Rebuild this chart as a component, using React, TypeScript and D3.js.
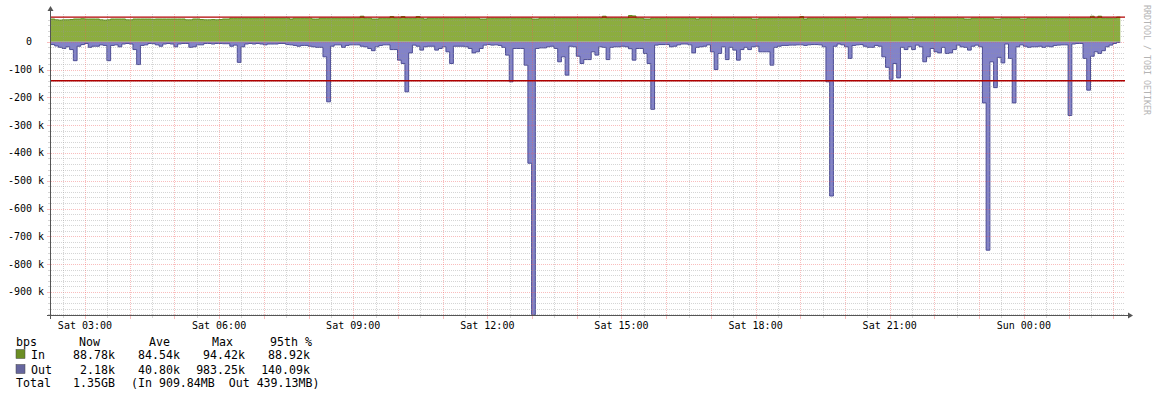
import React from 'react';
import * as d3 from 'd3';

// traffic samples, 5 minute steps, values in k bits/s
const inK = [
  82, 79, 78, 79, 79, 80, 82, 82, 83, 82, 82, 82, 82, 79, 78, 79, 82, 82, 82, 82, 79, 79, 82, 82,
  82, 82, 82, 81, 82, 82, 82, 82, 82, 82, 82, 82, 79, 79, 82, 82, 80, 79, 79, 80, 79, 80, 82, 82,
  85, 85, 85, 85, 85, 85, 85, 85, 85, 85, 85, 85, 85, 85, 85, 85, 82, 85, 85, 85, 85, 85, 82, 82,
  85, 85, 85, 85, 85, 85, 85, 85, 85, 85, 85, 92, 85, 85, 82, 82, 85, 85, 85, 91, 85, 85, 91, 85,
  85, 85, 91, 85, 82, 85, 85, 85, 85, 85, 85, 85, 85, 85, 85, 85, 85, 85, 85, 82, 82, 85, 85, 85,
  85, 85, 85, 85, 85, 85, 85, 85, 85, 82, 82, 85, 85, 85, 85, 85, 85, 85, 85, 85, 85, 85, 85, 85,
  85, 85, 85, 85, 92, 85, 85, 85, 85, 85, 85, 94.42, 93, 85, 85, 82, 82, 85, 85, 85, 85, 85, 85, 85,
  85, 85, 85, 85, 85, 82, 85, 85, 85, 85, 85, 85, 85, 85, 85, 85, 85, 85, 85, 85, 82, 82, 85, 85,
  85, 85, 85, 85, 85, 85, 85, 85, 85, 91, 82, 85, 85, 85, 85, 85, 85, 85, 85, 85, 85, 85, 85, 85,
  82, 82, 85, 85, 85, 85, 85, 85, 85, 85, 85, 85, 85, 85, 82, 82, 85, 85, 85, 85, 85, 85, 85, 85,
  85, 85, 85, 85, 85, 82, 82, 85, 85, 85, 85, 85, 85, 82, 82, 85, 85, 85, 85, 85, 82, 82, 85, 85,
  85, 85, 85, 85, 85, 85, 85, 85, 85, 85, 85, 85, 85, 85, 85, 92, 85, 92, 85, 85, 85, 85, 88.78,
];

const outK = [
  10, 15, 20, 24, 18, 28, 68, 16, 10, 6, 20, 16, 16, 11, 13, 68, 13, 11, 18, 8, 6, 8, 28, 82,
  13, 11, 6, 7, 11, 16, 8, 6, 8, 18, 8, 6, 6, 20, 18, 11, 11, 6, 6, 8, 6, 6, 7, 7,
  16, 12, 74, 18, 8, 6, 8, 6, 8, 11, 8, 8, 8, 6, 6, 10, 11, 13, 16, 13, 13, 16, 18, 20,
  20, 54, 216, 16, 11, 11, 20, 13, 11, 11, 11, 16, 18, 24, 32, 18, 13, 11, 11, 28, 28, 66, 78, 180,
  40, 12, 16, 30, 18, 16, 16, 30, 24, 18, 36, 78, 16, 16, 16, 18, 24, 40, 36, 24, 12, 10, 12, 11,
  13, 20, 48, 144, 24, 24, 24, 84, 437, 983.25, 24, 22, 22, 18, 16, 24, 72, 54, 120, 16, 18, 52, 78, 64,
  64, 36, 48, 18, 20, 64, 20, 18, 18, 16, 18, 25, 66, 24, 24, 42, 78, 243, 12, 10, 10, 10, 18, 16,
  11, 8, 8, 11, 40, 20, 18, 16, 11, 36, 100, 42, 18, 64, 20, 30, 66, 28, 20, 28, 18, 16, 36, 36,
  36, 84, 20, 16, 13, 13, 12, 12, 11, 11, 13, 11, 10, 10, 11, 18, 144, 555, 16, 8, 11, 18, 60, 13,
  11, 10, 16, 20, 20, 13, 16, 54, 92, 135, 78, 130, 20, 28, 18, 28, 12, 18, 72, 54, 24, 36, 40, 20,
  42, 40, 28, 12, 18, 20, 30, 16, 12, 18, 220, 750, 72, 165, 56, 76, 8, 60, 220, 18, 11, 16, 20, 18,
  18, 16, 20, 16, 18, 13, 12, 11, 11, 265, 8, 6, 6, 60, 174, 52, 36, 42, 32, 18, 12, 6, 2.18,
];

const in95 = 88920;
const out95 = 140090;
const yMajorTicks = [0, -100000, -200000, -300000, -400000, -500000, -600000, -700000, -800000, -900000];

const legendHead = ['bps', 'Now', 'Ave', 'Max', '95th %'];
const inStats = ['88.78k', '84.54k', '94.42k', '88.92k'];
const outStats = ['2.18k', '40.80k', '983.25k', '140.09k'];
const totalStats = ['1.35GB', '(In 909.84MB  Out 439.13MB)'];

const IN_FILL = '#8cad3f';
const IN_LINE = '#5c8f1e';
const OUT_FILL = '#8383c8';
const OUT_LINE = '#4d4d94';
const FONT = '"DejaVu Sans Mono", monospace';

const start = new Date(2024, 0, 6, 2, 14, 25);
const STEP = 5 * 60 * 1000;
const end = new Date(+start + 24 * 3600 * 1000);

export default function App() {
  const x = d3.scaleTime().domain([start, end]).range([51, 1124]);
  const y = d3.scaleLinear().domain([-983250, 100000]).range([315, 14]);

  const pts = (vals: number[], sign: number) =>
    vals
      .map((v, i) => [new Date(+start + i * STEP), sign * v * 1000] as [Date, number])
      .concat([[new Date(+start + vals.length * STEP), sign * vals[vals.length - 1] * 1000]]);

  const area = d3.area<[Date, number]>()
    .curve(d3.curveStepAfter)
    .x(d => x(d[0]))
    .y0(y(0))
    .y1(d => y(d[1]));
  const line = d3.line<[Date, number]>()
    .curve(d3.curveStepAfter)
    .x(d => x(d[0]))
    .y(d => y(d[1]));

  const inPts = pts(inK, 1);
  const outPts = pts(outK, -1);

  const hGrid = d3.range(-980000, 100000, 20000);
  const vGrid = d3.timeMinute.every(30)!.range(start, end);
  const xLabels = d3.timeHour.every(3)!.range(start, end);
  const fmt = d3.timeFormat('%a %H:%M');

  const px = (v: number) => Math.round(v) + 0.5;
  const minorCol = 'rgba(150,150,150,0.4)';
  const majorCol = 'rgba(240,90,90,0.4)';

  return (
    <svg width={1156} height={397} style={{ position: 'absolute', left: 0, top: 0, background: '#fff' }}>
      <path d={area(inPts)!} fill={IN_FILL} />
      <path d={area(outPts)!} fill={OUT_FILL} />
      <path d={line(inPts)!} fill="none" stroke={IN_LINE} strokeWidth={1} />
      <path d={line(outPts)!} fill="none" stroke={OUT_LINE} strokeWidth={1} />

      <g shapeRendering="crispEdges">
        {hGrid.map(v => {
          const major = v % 100000 === 0;
          const yy = px(y(v));
          return (
            <g key={'h' + v}>
              <line x1={51} x2={1124} y1={yy} y2={yy} stroke={major ? majorCol : minorCol} strokeDasharray="1,1" />
              <line x1={major ? 47 : 48} x2={51} y1={yy} y2={yy} stroke={major ? majorCol : minorCol} />
            </g>
          );
        })}
        {vGrid.map(t => {
          const major = t.getMinutes() === 0;
          const xx = px(x(t));
          if (xx <= 52) return null;
          return (
            <g key={'v' + +t}>
              <line x1={xx} x2={xx} y1={14} y2={315} stroke={major ? majorCol : minorCol} strokeDasharray="1,1" />
              <line x1={xx} x2={xx} y1={315} y2={major ? 319 : 318} stroke={major ? majorCol : minorCol} />
            </g>
          );
        })}
      </g>

      <line x1={51} x2={1125} y1={y(in95)} y2={y(in95)} stroke="#b00000" strokeWidth={1.4} />
      <line x1={51} x2={1125} y1={y(-out95)} y2={y(-out95)} stroke="#b00000" strokeWidth={1.4} />

      {/* axes */}
      <line x1={47} x2={1129} y1={315.5} y2={315.5} stroke="#555" />
      <path d="M1128,312.5 L1133,315.5 L1128,318.5 Z" fill="#555" />
      <line x1={50.5} x2={50.5} y1={319} y2={10} stroke="#555" />
      <path d="M47.5,11 L50.5,6 L53.5,11 Z" fill="#555" />

      {yMajorTicks.map(v => (
        <text key={'yl' + v} x={v === 0 ? 32 : 44} y={y(v)} dy="0.35em" textAnchor="end"
          fontFamily={FONT} fontSize={10} fill="#000">
          {v === 0 ? '0' : `${v / 1000} k`}
        </text>
      ))}
      {xLabels.map(t => (
        <text key={'xl' + +t} x={x(t)} y={328.5} textAnchor="middle" fontFamily={FONT} fontSize={10} fill="#000">
          {fmt(t)}
        </text>
      ))}

      <text x={1146.5} y={60} transform="rotate(90 1146.5 60)" textAnchor="middle" dy="0.35em"
        fontFamily={FONT} fontSize={8.3} fill="#b4b4b4">
        RRDTOOL / TOBI OETIKER
      </text>

      {/* legend */}
      <g fontFamily={FONT} fontSize={11.6} fill="#000">
        {legendHead.map((s, i) => (
          <text key={'lh' + i} x={[16, 79, 149, 212, 270][i]} y={346}>{s}</text>
        ))}
        <rect x={16} y={349.5} width={9} height={9} fill="#6b8e23" stroke="#444" strokeWidth={0.5} />
        <text x={31} y={358.5}>In</text>
        {inStats.map((s, i) => (
          <text key={'is' + i} x={[115, 180, 245, 310][i]} y={358.5} textAnchor="end">{s}</text>
        ))}
        <rect x={16} y={364.5} width={9} height={9} fill="#66669e" stroke="#444" strokeWidth={0.5} />
        <text x={31} y={373.5}>Out</text>
        {outStats.map((s, i) => (
          <text key={'os' + i} x={[115, 180, 245, 310][i]} y={373.5} textAnchor="end">{s}</text>
        ))}
        <text x={16} y={387}>Total</text>
        <text x={73} y={387}>{totalStats[0]}</text>
        <text x={131} y={387} style={{ whiteSpace: 'pre' }}>{totalStats[1]}</text>
      </g>
    </svg>
  );
}
